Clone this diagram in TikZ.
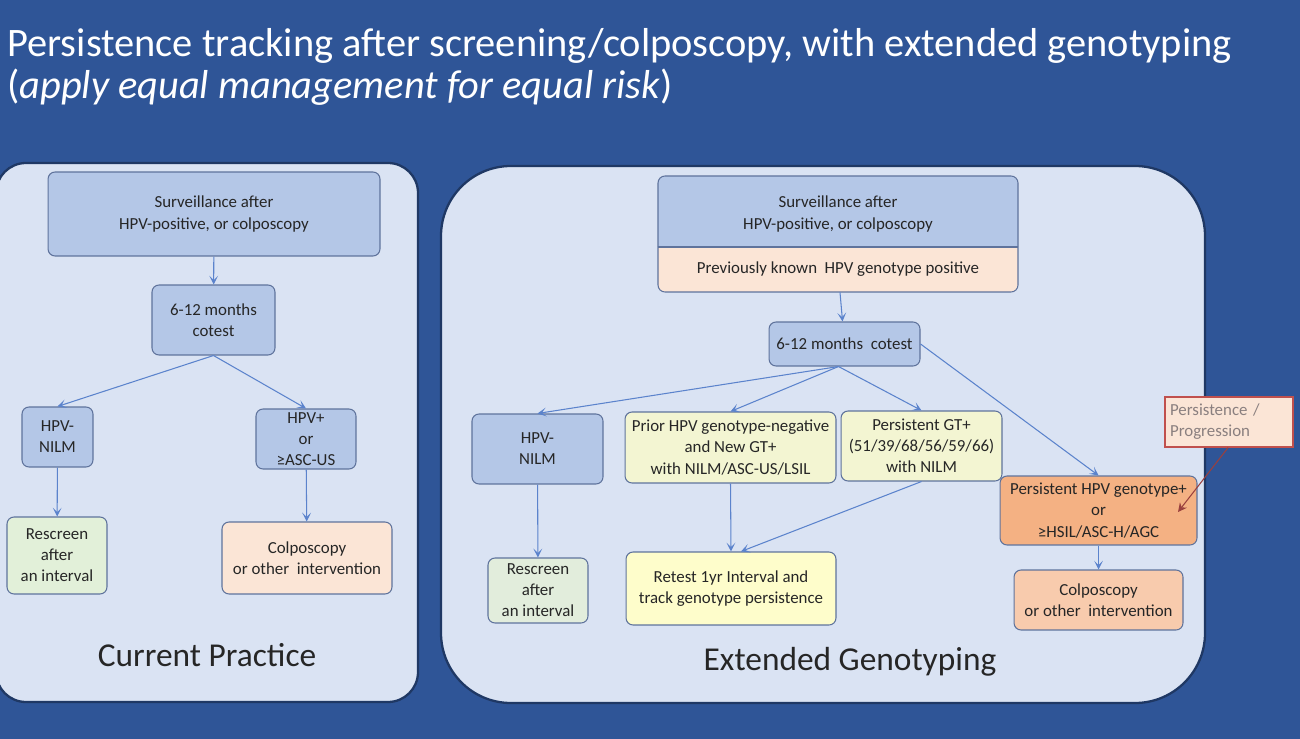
\documentclass[tikz,border=0pt]{standalone}
\usepackage{fontspec}
\setmainfont{Carlito}
\usetikzlibrary{arrows.meta}
\definecolor{slide}{HTML}{2F5597}
\definecolor{panel}{HTML}{DAE3F3}
\definecolor{panelline}{HTML}{1F3864}
\definecolor{boxline}{HTML}{5F739C}
\definecolor{bluefill}{HTML}{B4C7E7}
\definecolor{greenfill}{HTML}{E2F0D9}
\definecolor{greyfill}{HTML}{E2EDDC}
\definecolor{peachfill}{HTML}{FBE5D6}
\definecolor{creamfill}{HTML}{F3F5D2}
\definecolor{yellowfill}{HTML}{FEFDCB}
\definecolor{orangefill}{HTML}{F4B183}
\definecolor{salmonfill}{HTML}{F8CBAD}
\definecolor{arrowblue}{HTML}{5B83CC}
\definecolor{notered}{HTML}{C0504D}
\definecolor{notetext}{HTML}{8A7F7F}
\definecolor{txt}{HTML}{262626}

\begin{document}
\begin{tikzpicture}[x=0.02cm,y=-0.02cm,
	box/.style={draw=boxline,line width=0.6pt,rounded corners=4pt,align=center,text=txt,inner sep=1pt,font=\fontsize{9.6}{12}\selectfont},
	plain/.style={align=center,text=txt,inner sep=1pt,font=\fontsize{9.6}{12}\selectfont},
	panelbox/.style={fill=panel,draw=panelline,line width=1.3pt},
	flow/.style={draw=arrowblue,line width=0.6pt,-{Stealth[length=5pt,width=5pt,inset=2.5pt]}},
	paneltitle/.style={text=txt,font=\fontsize{19}{23}\selectfont},
	headline/.style={anchor=base west,text=white,inner sep=0,font=\fontsize{23}{27}\selectfont}]
	\fill[slide] (0,0) rectangle (1300,739);
	\useasboundingbox (0,0) rectangle (1300,739);
	\node[headline] (title) at (7,57) {Persistence tracking after screening/colposcopy, with extended genotyping};
	\node[headline] (subtitle) at (7,99) {(\textit{apply equal management for equal risk})};
	\draw[panelbox,rounded corners=0.6cm] (-4,163) rectangle (418,702);
	\draw[panelbox,rounded corners=1.4cm] (441,166) rectangle (1205,703);
	\node[box,fill=bluefill,minimum width=6.64cm,minimum height=1.68cm] (surv) at (214,214) {Surveillance after\\HPV-positive, or colposcopy};
	\node[box,fill=bluefill,minimum width=2.46cm,minimum height=1.4cm] (cotest) at (213.5,320) {6-12 months\\cotest};
	\node[box,fill=bluefill,minimum width=1.42cm,minimum height=1.2cm] (neg) at (57.5,437) {HPV-\\NILM};
	\node[box,fill=bluefill,minimum width=2cm,minimum height=1.2cm] (pos) at (306,439) {HPV+\\or\\≥ASC-US};
	\node[box,fill=greenfill,minimum width=2cm,minimum height=1.54cm] (rescreen) at (57,555.5) {Rescreen\\after\\an interval};
	\node[box,fill=peachfill,minimum width=3.4cm,minimum height=1.44cm] (colpo) at (307,558) {Colposcopy\\or other\ \ intervention};
	\node[paneltitle] (current) at (207,655) {Current Practice};
	\draw[flow] (surv) -- (cotest);
	\draw[flow] (cotest.south) -- (neg.north);
	\draw[flow] (cotest.south) -- (pos.north);
	\draw[flow] (neg) -- (rescreen);
	\draw[flow] (pos) -- (colpo);
	\filldraw[fill=bluefill,draw=boxline,line width=0.6pt,rounded corners=4pt] (658,247) -- (658,176) -- (1018,176) -- (1018,247);
	\filldraw[fill=peachfill,draw=boxline,line width=0.6pt,rounded corners=4pt] (658,247) -- (658,292) -- (1018,292) -- (1018,247);
	\draw[boxline,line width=0.6pt] (658,247) -- (1018,247);
	\node[plain,minimum width=7.2cm,minimum height=1.42cm] (survB) at (838,214) {Surveillance after\\HPV-positive, or colposcopy};
	\node[plain,minimum width=7.2cm,minimum height=0.9cm] (known) at (838,269.5) {Previously known\ \ HPV genotype positive};
	\node[box,fill=bluefill,minimum width=3.02cm,minimum height=0.88cm] (cotestB) at (844.5,344) {6-12 months\ \ cotest};
	\node[box,fill=bluefill,minimum width=2.62cm,minimum height=1.4cm] (negB) at (537.5,449) {HPV-\\NILM};
	\node[box,fill=creamfill,minimum width=4.22cm,minimum height=1.42cm] (prior) at (730.5,447.5) {Prior HPV genotype-negative\\and New GT+\\with NILM/ASC-US/LSIL};
	\node[box,fill=creamfill,minimum width=3.22cm,minimum height=1.4cm] (persist) at (921.5,446) {Persistent GT+\\(51/39/68/56/59/66)\\with NILM};
	\node[box,fill=orangefill,minimum width=3.94cm,minimum height=1.38cm] (hpvpos) at (1098.5,510.5) {Persistent HPV genotype+\\or\\≥HSIL/ASC-H/AGC};
	\node[box,fill=greyfill,minimum width=2cm,minimum height=1.3cm] (rescreenB) at (538,590.5) {Rescreen\\after\\an interval};
	\node[box,fill=yellowfill,minimum width=4.2cm,minimum height=1.46cm] (retest) at (731,588.5) {Retest 1yr Interval and\\track genotype persistence};
	\node[box,fill=salmonfill,minimum width=3.38cm,minimum height=1.2cm] (colpoB) at (1098.5,600) {Colposcopy\\or other\ \ intervention};
	\node[draw=notered,line width=0.8pt,fill=peachfill,text=notetext,align=left,text width=2.36cm,inner sep=0.1cm,minimum height=1cm,font=\fontsize{9.6}{12}\selectfont] (note) at (1229,422) {Persistence /\\Progression};
	\coordinate (notetip) at (1178,512);
	\node[paneltitle] (extended) at (850,662) {Extended Genotyping};
	\draw[flow] (known) -- (cotestB);
	\draw[flow] ([xshift=-0.12cm]cotestB.south) -- (negB.north);
	\draw[flow] ([xshift=-0.12cm]cotestB.south) -- (prior.north);
	\draw[flow] ([xshift=-0.12cm]cotestB.south) -- (persist.north);
	\draw[flow] (cotestB.east) -- (hpvpos.north);
	\draw[flow] (negB) -- (rescreenB);
	\draw[flow] (prior.south) -- (retest.north);
	\draw[flow] (persist.south) -- ([xshift=0.2cm]retest.north);
	\draw[flow] (hpvpos) -- (colpoB);
	\draw[draw=notered!80!black,line width=0.6pt,-{Stealth[length=5pt,width=5pt]}] ([xshift=-0.02cm]note.south) -- (notetip);
\end{tikzpicture}
\end{document}
